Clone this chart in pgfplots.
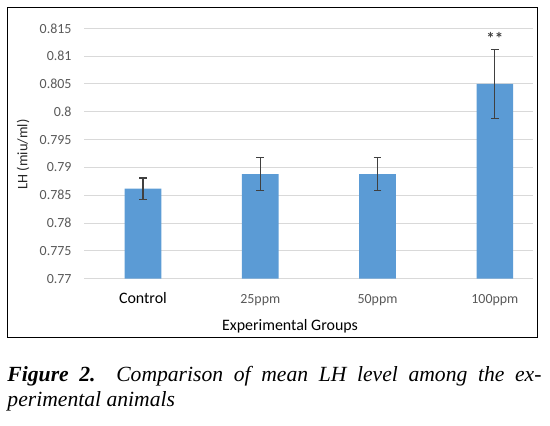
\documentclass[border=0pt]{standalone}
\usepackage{fontspec}
\setmainfont{Carlito}
\newfontfamily\capfont{Liberation Serif}
\usepackage{pgfplots}
\pgfplotsset{compat=1.18}
\definecolor{barblue}{HTML}{5B9BD5}
\definecolor{gridgray}{HTML}{D9D9D9}
\definecolor{ticktext}{HTML}{595959}
\definecolor{errgray}{HTML}{404040}
\begin{document}
\begin{tikzpicture}
\path[use as bounding box] (0,0) rectangle (550bp,426bp);
\draw[black, line width=1bp] (7bp,88bp) rectangle (537bp,418bp);
\begin{axis}[
  at={(84.3bp,147.3bp)}, anchor=south west,
  scale only axis, width=448.7bp, height=250.4bp,
  xmin=-0.5, xmax=3.325, ymin=0.77, ymax=0.815,
  ybar, bar width=36.7bp,
  axis line style={draw=none},
  ymajorgrids, grid style={gridgray, line width=1bp},
  major tick length=0pt,
  ytick={0.77,0.775,0.78,0.785,0.79,0.795,0.8,0.805,0.81,0.815},
  /pgf/number format/.cd, fixed, precision=3, assume math mode=true,
  /pgfplots/.cd,
  yticklabel style={font=\fontsize{14}{14}\selectfont, text=ticktext, inner sep=0pt, anchor=east, xshift=-12.6bp},
  xtick={0,1,2,3},
  xticklabels={{\fontsize{16}{16}\selectfont\color{black}Control},25ppm,50ppm,100ppm},
  xticklabel style={font=\fontsize{14}{14}\selectfont, text=ticktext, inner sep=0pt, anchor=base, yshift=-25bp},
  clip=false,
]
\addplot[fill=barblue, draw=none,
  error bars/.cd, y dir=both, y explicit,
  error bar style={errgray, line width=1.1bp},
  error mark options={rotate=90, mark size=3.9bp, errgray, line width=1.1bp}]
  coordinates {
   (0,0.7862) +- (0,0.0019)
   (1,0.7888) +- (0,0.003)
   (2,0.7888) +- (0,0.003)
   (3,0.8050) +- (0,0.0062)
  };
\node[text=errgray, font=\fontsize{17}{17}\selectfont\bfseries, inner sep=0pt] at (axis cs:3,0.8132) {**};
\end{axis}
\node[rotate=90, font=\fontsize{14.5}{15}\selectfont, text=black!85] at (23bp,271.5bp) {LH (miu/ml)};
\node[font=\fontsize{16}{16}\selectfont] at (290bp,100bp) {Experimental Groups};
\node[anchor=base west, inner sep=0pt] at (7.3bp,44.3bp) {\capfont\fontsize{21.7}{25}\selectfont\itshape\makebox[534bp][s]{\bfseries Figure 2.\hspace*{10bp} \mdseries Comparison of mean LH level among the ex-}};
\node[anchor=base west, inner sep=0pt] at (7.3bp,19.3bp) {\capfont\fontsize{21.7}{25}\selectfont\itshape perimental animals};
\end{tikzpicture}
\end{document}
